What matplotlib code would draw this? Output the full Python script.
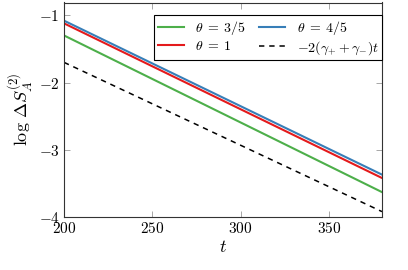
import numpy as np
import matplotlib
matplotlib.use("Agg")
import matplotlib.pyplot as plt

plt.rcParams['mathtext.fontset'] = 'cm'
plt.rcParams['font.family'] = 'serif'
plt.rcParams['font.serif'] = ['DejaVu Serif']

t = [200, 380]
green_35 = [-1.30, -3.63]
red_1 = [-1.12, -3.42]
blue_45 = [-1.08, -3.37]
dashed_ref = [-1.70, -3.92]

xticks = [200, 250, 300, 350]
yticks = [-1, -2, -3, -4]

fig = plt.figure(figsize=(4.08, 2.70), dpi=100)
ax = fig.add_axes([64/408, 53/270, 318/408, 214.5/270])

ax.plot(t, green_35, color='#4daf4a', lw=1.5, label=r'$\theta\;=\;3/5$')
ax.plot(t, red_1, color='#e41a1c', lw=1.5, label=r'$\theta\;=\;1$')
ax.plot(t, blue_45, color='#377eb8', lw=1.5, label=r'$\theta\;=\;4/5$')
ax.plot(t, dashed_ref, color='black', lw=1.1, ls=(0, (3.5, 3.2)), label=r'$-2(\gamma_{+}+\gamma_{-})t$')

ax.set_xlim(200, 380)
ax.set_ylim(-4, -0.81)
ax.set_xticks(xticks)
ax.set_xticklabels([r'$%d$' % v for v in xticks])
ax.set_yticks(yticks)
ax.set_yticklabels([r'$%d$' % v for v in yticks])
ax.tick_params(direction='in', length=4, width=0.6, color='#999999', top=True, right=True, labelsize=11, pad=3)
for s in ax.spines.values():
    s.set_color('#333333')
    s.set_linewidth(0.8)

ax.set_xlabel(r'$t$', fontsize=13, labelpad=1)
ax.set_ylabel(r'$\log\,\Delta S_A^{(2)}$', fontsize=13, labelpad=2)

handles, labels = ax.get_legend_handles_labels()
leg = ax.legend(handles, labels, ncol=2,
                loc='upper right', bbox_to_anchor=(1.0, 0.94), fontsize=10,
                frameon=True, fancybox=False, edgecolor='black', framealpha=1,
                handlelength=1.9, columnspacing=0.9, handletextpad=0.8,
                borderpad=0.25, labelspacing=0.15, borderaxespad=0)
leg.get_frame().set_linewidth(0.8)

fig.savefig('out.png', dpi=100)
